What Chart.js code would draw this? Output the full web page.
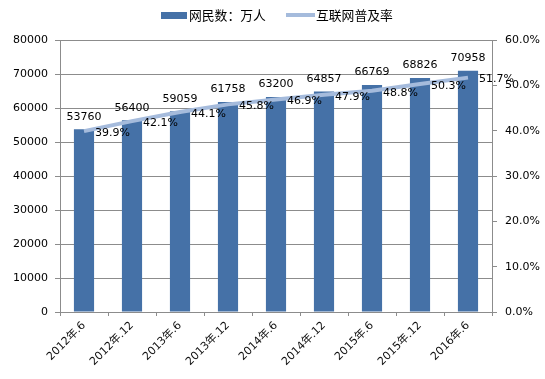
<!DOCTYPE html>
<html><head><meta charset="utf-8">
<script src="https://cdn.jsdelivr.net/npm/chart.js@4/dist/chart.umd.min.js"></script>
<style>html,body{margin:0;padding:0;background:#fff;}#wrap{width:545px;height:379px;}</style>
</head><body><div id="wrap"><canvas id="c" width="545" height="379"></canvas></div>
<script>
const categories = ["2012年.6","2012年.12","2013年.6","2013年.12","2014年.6","2014年.12","2015年.6","2015年.12","2016年.6"];
const netizens = [53760,56400,59059,61758,63200,64857,66769,68826,70958];
const penetration = [39.9,42.1,44.1,45.8,46.9,47.9,48.8,50.3,51.7];
const leftTicks = [0,10000,20000,30000,40000,50000,60000,70000,80000];
const rightTicks = ["0.0%","10.0%","20.0%","30.0%","40.0%","50.0%","60.0%"];
const seriesNames = ["网民数：万人","互联网普及率"];

const BAR = '#4571a7', LINE = '#a5bbdc', GRID = '#8c8c8c';
const NUMFONT = '11px "DejaVu Sans", "Noto Sans CJK SC", sans-serif';
const CJKFONT = '12.8px "Noto Sans CJK SC", sans-serif';

const labelPlugin = {
  id: 'labels',
  afterDatasetsDraw(chart) {
    const ctx = chart.ctx;
    ctx.save();
    ctx.fillStyle = '#000';
    ctx.font = NUMFONT;
    const m0 = chart.getDatasetMeta(0);
    m0.data.forEach((el, i) => {
      ctx.textAlign = 'center'; ctx.textBaseline = 'middle';
      ctx.fillText(String(netizens[i]), el.x, el.y - 12.5);
    });
    const m1 = chart.getDatasetMeta(1);
    m1.data.forEach((el, i) => {
      ctx.textAlign = 'left'; ctx.textBaseline = 'middle';
      ctx.fillText(penetration[i].toFixed(1) + '%', el.x + 11, el.y + 2);
    });
    ctx.restore();
  },
  afterDraw(chart) {
    const ctx = chart.ctx;
    ctx.save();
    ctx.fillStyle = BAR;
    ctx.fillRect(161, 12, 26, 7);
    ctx.strokeStyle = LINE; ctx.lineWidth = 4; ctx.lineCap = 'butt';
    ctx.beginPath(); ctx.moveTo(286, 15); ctx.lineTo(315, 15); ctx.stroke();
    ctx.fillStyle = '#000'; ctx.font = CJKFONT;
    ctx.textAlign = 'left'; ctx.textBaseline = 'middle';
    ctx.fillText(seriesNames[0], 189, 15.5);
    ctx.fillText(seriesNames[1], 316, 15.5);
    ctx.restore();
  }
};

new Chart(document.getElementById('c'), {
  data: {
    labels: categories,
    datasets: [
      { type: 'bar', label: seriesNames[0], data: netizens, backgroundColor: BAR,
        barPercentage: 0.42, categoryPercentage: 1, yAxisID: 'y', order: 2 },
      { type: 'line', label: seriesNames[1], data: penetration.map(v => v / 100), borderColor: LINE,
        borderWidth: 4, pointRadius: 0, tension: 0, fill: false, yAxisID: 'y1', order: 1 }
    ]
  },
  options: {
    responsive: false, animation: false,
    layout: { padding: { top: 40, left: 0, right: 0, bottom: 0 } },
    plugins: { legend: { display: false }, tooltip: { enabled: false } },
    scales: {
      x: {
        offset: true,
        grid: { display: true, offset: true, drawOnChartArea: false, drawTicks: true, tickLength: 4, color: GRID },
        border: { color: GRID },
        ticks: { maxRotation: 45, minRotation: 45, color: '#111', padding: 3,
          font: { family: '"DejaVu Sans", "Noto Sans CJK SC", sans-serif', size: 11 } },
        afterFit(s) { s.height = 67; }
      },
      y: {
        position: 'left', min: 0, max: 80000,
        afterBuildTicks(s) { s.ticks = leftTicks.map(v => ({ value: v })); },
        ticks: { color: '#000', padding: 7, callback: v => String(v),
          font: { family: '"DejaVu Sans", sans-serif', size: 11 } },
        grid: { color: GRID, tickLength: 5 },
        border: { color: GRID },
        afterFit(s) { s.width = 60; }
      },
      y1: {
        position: 'right', min: 0, max: 0.6,
        afterBuildTicks(s) { s.ticks = rightTicks.map((t, i) => ({ value: i / 10 })); },
        ticks: { color: '#000', padding: 8, callback: (v, i) => rightTicks[i],
          font: { family: '"DejaVu Sans", sans-serif', size: 11 } },
        grid: { drawOnChartArea: false, color: GRID, tickLength: 5 },
        border: { color: GRID },
        afterFit(s) { s.width = 53; }
      }
    }
  },
  plugins: [labelPlugin]
});
</script></body></html>
